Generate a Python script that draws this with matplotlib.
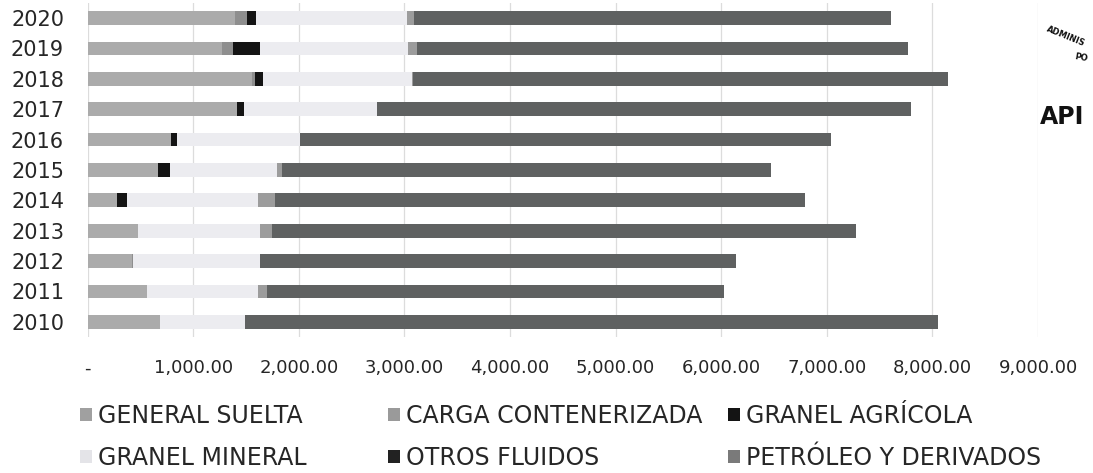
import numpy as np
import matplotlib.pyplot as plt
from matplotlib.ticker import FuncFormatter
from matplotlib.patches import Patch

# datos por año (miles de toneladas aprox.)
years = ['2010', '2011', '2012', '2013', '2014', '2015', '2016', '2017', '2018', '2019', '2020']
general_suelta = [684, 558, 416, 479, 281, 669, 786, 1416, 1553, 1268, 1400]
carga_contenerizada = [0, 0, 15, 0, 0, 0, 0, 0, 31, 110, 111]
granel_agricola = [0, 0, 0, 0, 94, 110, 63, 63, 79, 256, 79]
granel_mineral = [806, 1057, 1200, 1151, 1240, 1011, 1162, 1265, 1404, 1403, 1435]
otros_fluidos = [0, 79, 0, 120, 157, 54, 0, 0, 10, 80, 63]
petroleo = [6561, 4332, 4509, 5530, 5017, 4623, 5031, 5054, 5072, 4655, 4518]

labels = ['GENERAL SUELTA', 'CARGA CONTENERIZADA', 'GRANEL AGRÍCOLA',
          'GRANEL MINERAL', 'OTROS FLUIDOS', 'PETRÓLEO Y DERIVADOS']
series = [general_suelta, carga_contenerizada, granel_agricola,
          granel_mineral, otros_fluidos, petroleo]
colors = ['#ababab', '#8e8e8e', '#141414', '#ececf0', '#9c9c9c', '#5f6161']
legend_colors = ['#a0a0a0', '#9a9a9a', '#141414', '#e4e4e8', '#222222', '#7a7a7a']

text_color = '#262626'

fig = plt.figure(figsize=(10.93, 4.73), dpi=100)
ax = fig.add_axes([0.0802, 0.2875, 0.8695, 0.7065])

y = np.arange(len(years))
left = np.zeros(len(years))
for vals, c, lab in zip(series, colors, labels):
    ax.barh(y, vals, left=left, height=0.45, color=c, label=lab, zorder=3)
    left += np.array(vals)

ax.set_xlim(0, 9000)
ax.set_ylim(-0.5, len(years) - 0.5)
ax.set_xticks(np.arange(0, 9001, 1000))
ax.set_yticks(y)
ax.set_yticklabels(years)
ax.xaxis.set_major_formatter(FuncFormatter(lambda v, p: '-' if v == 0 else '{:,.2f}'.format(v)))
ax.grid(axis='x', color='#dcdcdc', lw=0.9, zorder=0)
for s in ax.spines.values():
    s.set_visible(False)
ax.tick_params(axis='x', length=0, pad=16, labelsize=13, labelcolor=text_color)
ax.tick_params(axis='y', length=0, pad=17, labelsize=15, labelcolor=text_color)

# leyenda en 3 columnas de ancho fijo
col_x = [80, 388, 728]
order = [[0, 3], [1, 4], [2, 5]]
for cx, idx in zip(col_x, order):
    handles = [Patch(facecolor=legend_colors[i], edgecolor='none') for i in idx]
    leg = fig.legend(handles, [labels[i] for i in idx], loc='upper left',
                     bbox_to_anchor=(cx / 1093, 1 - 404 / 473), frameon=False,
                     fontsize=17, handlelength=0.5, handleheight=0.5,
                     handletextpad=0.25, labelspacing=0.75, borderpad=0,
                     borderaxespad=0)
    for t in leg.get_texts():
        t.set_color(text_color)

# sello a la derecha
fig.text(1040 / 1093, 1 - 117 / 473, 'API', fontsize=17, fontweight='bold',
         color='#111111', va='center', ha='left')
fig.text(1045 / 1093, 1 - 36 / 473, 'ADMINIS', fontsize=6, fontweight='bold',
         color='#111111', rotation=-22, va='center', ha='left')
fig.text(1074 / 1093, 1 - 58 / 473, 'PO', fontsize=6, fontweight='bold',
         color='#111111', rotation=-10, va='center', ha='left')

fig.savefig('out.png', dpi=100)
